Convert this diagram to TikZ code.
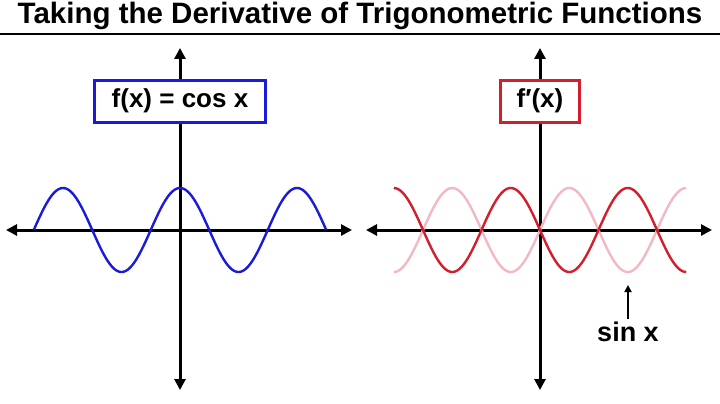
\documentclass[tikz,border=0pt]{standalone}
\usepackage{fontspec}
\setmainfont{Liberation Sans}
\usetikzlibrary{arrows.meta}
\definecolor{cblue}{HTML}{1A1ADC}
\definecolor{cred}{HTML}{D21E2D}
\definecolor{cpink}{HTML}{F3B9C2}
\begin{document}
\begin{tikzpicture}[x=1pt,y=-1pt,
  axis/.style={line width=3pt,-{Triangle[length=11pt,width=11pt]}},
  curve/.style={line width=2.4pt},
  lbl/.style={font=\bfseries\fontsize{26}{28}\selectfont,line width=3pt,inner sep=4pt,minimum height=42pt,fill=white},
  ]
\useasboundingbox (0,0) rectangle (720,404);
\node[font=\bfseries\fontsize{29.5}{32}\selectfont] (title) at (360,16) {Taking the Derivative of Trigonometric Functions};
\draw[line width=2.5pt] (0,34) -- (720,34);
% left
\draw[axis] (180,230) -- (180,48);
\draw[axis] (180,230) -- (180,390);
\draw[axis] (180,230) -- (6,230);
\draw[axis] (180,230) -- (352,230);
\draw[curve,cblue,domain=-7.854:7.854,samples=200,smooth] plot ({180+\x*18.62},{230-42*cos(\x r)});
\node[lbl,draw=cblue,minimum width=171pt] (f) at (180,101) {f(x) = cos x};
% right
\draw[axis] (540,230) -- (540,48);
\draw[axis] (540,230) -- (540,390);
\draw[axis] (540,230) -- (366,230);
\draw[axis] (540,230) -- (712,230);
\draw[curve,cpink,domain=-7.854:7.854,samples=200,smooth] plot ({540+\x*18.62},{230-42*sin(\x r)});
\draw[curve,cred,domain=-7.854:7.854,samples=200,smooth] plot ({540+\x*18.62},{230+42*sin(\x r)});
\node[lbl,draw=cred,minimum width=79pt] (fp) at (540,101) {f′(x)};
\node[font=\bfseries\fontsize{27}{29}\selectfont] (s) at (628,332) {sin x};
\coordinate (sa) at (628,285);
\draw[line width=2pt,-{Triangle[length=7pt,width=7pt]}] (s.north) -- (sa);
\end{tikzpicture}
\end{document}
